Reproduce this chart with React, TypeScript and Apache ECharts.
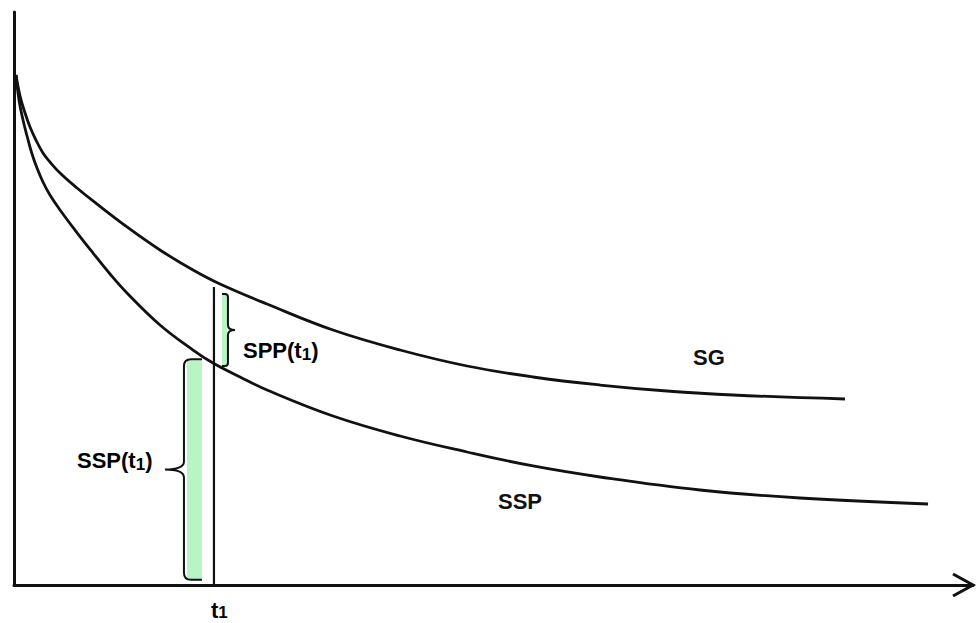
import React, { useEffect, useRef } from "react";
import * as echarts from "echarts";

// Time axis (arbitrary units, 0..100) and survival values (0..100)
const sgTime = [0.21, 0.63, 1.15, 1.67, 2.29, 3.02, 3.75, 4.8, 6.57, 8.24, 11.78, 15.22, 18.67, 21.48, 26.38, 33.26, 40.25, 47.24, 54.12, 61.11, 68.09, 74.97, 86.65];
const sgValues = [89.01, 85.34, 82.37, 79.93, 77.66, 75.39, 73.82, 71.9, 69.28, 67.02, 62.48, 58.46, 54.97, 52.53, 49.04, 44.5, 41.01, 38.22, 36.3, 34.9, 33.86, 33.16, 32.46];

const sspTime = [0.21, 0.52, 0.94, 1.36, 1.88, 2.4, 3.02, 3.75, 4.8, 6.36, 8.24, 10.01, 11.78, 15.22, 18.67, 20.75, 23.57, 26.38, 33.26, 40.25, 47.24, 54.12, 61.11, 71.53, 81.96, 95.31];
const sspValues = [89.01, 84.64, 81.15, 78.36, 75.22, 72.77, 70.33, 68.06, 65.45, 61.95, 57.94, 54.28, 50.96, 45.38, 41.01, 38.74, 36.3, 34.03, 29.49, 26.0, 23.21, 20.77, 18.85, 16.58, 15.18, 14.14];

const t1 = 20.85;
const t1LineTop = 52.0;

// Braces: low / high value at t1, side of the vertical line
const braceLow = [0.9, 38.2];
const braceHigh = [39.4, 50.8];
const braceSide = ["left", "right"];

const curveLabels = ["SG", "SSP"];

const FONT = "'Liberation Sans', Arial, sans-serif";
const GREEN = "#b8f4c4";
const INK = "#111111";

export default function App() {
  const ref = useRef<HTMLDivElement>(null);

  useEffect(() => {
    if (!ref.current) return;
    const chart = echarts.init(ref.current, null, { renderer: "svg" });

    const sgData = sgTime.map((t, i) => [t, sgValues[i]]);
    const sspData = sspTime.map((t, i) => [t, sspValues[i]]);
    const braceData = braceLow.map((lo, i) => [t1, lo, braceHigh[i], i]);

    const rich = {
      a: { fontSize: 22, fontWeight: "bold", fontFamily: FONT, color: INK, lineHeight: 24, verticalAlign: "top" },
      s: { fontSize: 17, fontWeight: "bold", fontFamily: FONT, color: INK, lineHeight: 12, verticalAlign: "bottom" },
    };
    const richT = {
      a: { fontSize: 22, fontWeight: "bold", fontFamily: FONT, color: INK, lineHeight: 22, verticalAlign: "top" },
      s: { fontSize: 17, fontWeight: "bold", fontFamily: FONT, color: INK, lineHeight: 10, verticalAlign: "bottom" },
    };

    chart.setOption({
      animation: false,
      backgroundColor: "#ffffff",
      grid: { left: 14, right: 5, top: 12, bottom: 38 },
      xAxis: {
        type: "value",
        min: 0,
        max: 100,
        axisLine: { show: true, onZero: false, lineStyle: { color: INK, width: 3 } },
        axisTick: { show: false },
        axisLabel: { show: false },
        splitLine: { show: false },
      },
      yAxis: {
        type: "value",
        min: 0,
        max: 100,
        axisLine: { show: true, onZero: false, lineStyle: { color: INK, width: 3 } },
        axisTick: { show: false },
        axisLabel: { show: false },
        splitLine: { show: false },
      },
      series: [
        {
          type: "custom",
          name: "braces",
          data: braceData,
          z: 1,
          renderItem: (params: any, api: any) => {
            const x = api.value(0);
            const lo = api.value(1);
            const hi = api.value(2);
            const idx = api.value(3);
            const pLo = api.coord([x, lo]);
            const pHi = api.coord([x, hi]);
            const px = pLo[0];
            const yb = pLo[1];
            const yt = pHi[1];
            const mid = (yb + yt) / 2;
            if (braceSide[idx] === "left") {
              const bx = px - 30;
              const r = 7;
              const d =
                `M ${px - 12} ${yt} L ${bx + r} ${yt} Q ${bx} ${yt} ${bx} ${yt + r} ` +
                `L ${bx} ${mid - 8} Q ${bx} ${mid} ${px - 49} ${mid} Q ${bx} ${mid} ${bx} ${mid + 8} ` +
                `L ${bx} ${yb - r} Q ${bx} ${yb} ${bx + r} ${yb} L ${px - 12} ${yb}`;
              return {
                type: "group",
                children: [
                  { type: "rect", shape: { x: px - 27, y: yt + 1, width: 15, height: yb - yt - 1 }, style: { fill: GREEN } },
                  { type: "path", shape: { pathData: d }, style: { fill: "none", stroke: INK, lineWidth: 2 } },
                ],
              };
            }
            const bx = px + 14;
            const r = 3;
            const d =
              `M ${px + 8} ${yt} L ${bx - r} ${yt} Q ${bx} ${yt} ${bx} ${yt + r} ` +
              `L ${bx} ${mid - 5} Q ${bx} ${mid} ${px + 21} ${mid} Q ${bx} ${mid} ${bx} ${mid + 5} ` +
              `L ${bx} ${yb - r} Q ${bx} ${yb} ${bx - r} ${yb} L ${px + 8} ${yb}`;
            return {
              type: "group",
              children: [
                { type: "rect", shape: { x: px + 8, y: yt + 1, width: 5, height: yb - yt - 1 }, style: { fill: GREEN } },
                { type: "path", shape: { pathData: d }, style: { fill: "none", stroke: INK, lineWidth: 2 } },
              ],
            };
          },
        },
        {
          type: "line",
          name: curveLabels[0],
          data: sgData,
          smooth: 0.4,
          showSymbol: false,
          lineStyle: { color: INK, width: 2.8 },
          z: 3,
        },
        {
          type: "line",
          name: curveLabels[1],
          data: sspData,
          smooth: 0.4,
          showSymbol: false,
          lineStyle: { color: INK, width: 2.8 },
          z: 3,
        },
        {
          type: "line",
          name: "t1",
          data: [
            [t1, 0],
            [t1, t1LineTop],
          ],
          showSymbol: false,
          lineStyle: { color: INK, width: 2.2 },
          z: 4,
        },
      ],
      graphic: [
        {
          type: "polyline",
          shape: { points: [[953, 574], [973, 585], [953, 596]] },
          style: { stroke: INK, lineWidth: 3, fill: "none" },
        },
        {
          type: "text",
          x: 243,
          y: 351,
          style: { text: "{a|SPP(t}{s|1}{a|)}", rich, verticalAlign: "middle", align: "left" },
        },
        {
          type: "text",
          x: 77,
          y: 461,
          style: { text: "{a|SSP(t}{s|1}{a|)}", rich, verticalAlign: "middle", align: "left" },
        },
        {
          type: "text",
          x: 709,
          y: 357,
          style: { text: curveLabels[0], font: `bold 22px ${FONT}`, fill: INK, align: "center", verticalAlign: "middle" },
        },
        {
          type: "text",
          x: 520,
          y: 501,
          style: { text: curveLabels[1], font: `bold 22px ${FONT}`, fill: INK, align: "center", verticalAlign: "middle" },
        },
        {
          type: "text",
          x: 211,
          y: 610,
          style: { text: "{a|t}{s|1}", rich: richT, verticalAlign: "middle", align: "left" },
        },
      ],
    });

    return () => chart.dispose();
  }, []);

  return <div ref={ref} style={{ position: "fixed", left: 0, top: 0, width: 978, height: 623, background: "#fff" }} />;
}
